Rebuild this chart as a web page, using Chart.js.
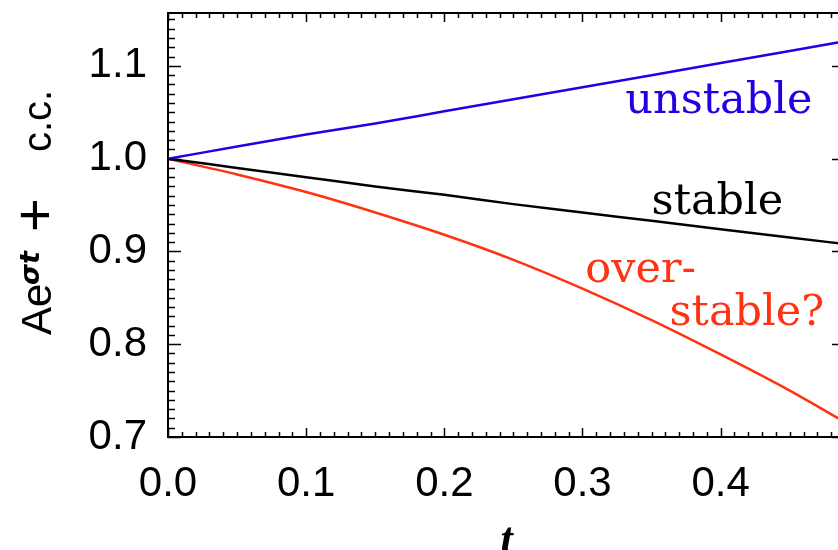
<!DOCTYPE html>
<html>
<head>
<meta charset="utf-8">
<script src="https://cdn.jsdelivr.net/npm/chart.js@4.4.0/dist/chart.umd.min.js"></script>
<style>
  html, body { margin: 0; padding: 0; background: #fff; overflow: hidden; width: 838px; height: 550px; }
  canvas { display: block; }
</style>
</head>
<body>
<canvas id="growthChart" width="846" height="550"></canvas>
<script>
// data
const tValues    = [0, 0.05, 0.1, 0.15, 0.2, 0.25, 0.3, 0.35, 0.4, 0.45, 0.49];
const unstable   = [1.0, 1.013, 1.026, 1.038, 1.051, 1.064, 1.077, 1.090, 1.103, 1.116, 1.1265];
const stable     = [1.0, 0.990, 0.980, 0.970, 0.961, 0.951, 0.942, 0.933, 0.924, 0.915, 0.908];
const overstable = [1.0, 0.983, 0.964, 0.942, 0.918, 0.891, 0.860, 0.826, 0.789, 0.750, 0.716];
const xTicks = [0, 0.1, 0.2, 0.3, 0.4];
const yTicks = [0.7, 0.8, 0.9, 1.0, 1.1];

const BLUE = '#2200e6';
const RED = '#ff3311';

// curve labels, placed in data coordinates
const notes = [
  { text: 'unstable', t: 0.331, v: 1.049, color: BLUE, w: 193 },
  { text: 'stable',   t: 0.350, v: 0.940, color: '#000' },
  { text: 'over-',    t: 0.302, v: 0.867, color: RED },
  { text: 'stable?',  t: 0.363, v: 0.821, color: RED }
];

function toPoints(ys) {
  return tValues.map((t, i) => ({ x: t, y: ys[i] }));
}

// box with IDL style inward ticks, curve labels and the y title
const frame = {
  id: 'frame',
  afterDatasetsDraw(chart) {
    const { ctx, chartArea: a, scales: { x, y } } = chart;
    ctx.save();
    ctx.strokeStyle = '#000';
    ctx.lineWidth = 2;
    ctx.strokeRect(a.left, a.top, a.right - a.left, a.bottom - a.top);

    ctx.lineWidth = 1.5;
    ctx.beginPath();
    for (let i = 0; i <= 49; i++) {
      const px = Math.round(x.getPixelForValue(i / 100)) + 0.5;
      const len = i % 10 === 0 ? 9 : 5;
      ctx.moveTo(px, a.bottom); ctx.lineTo(px, a.bottom - len);
      ctx.moveTo(px, a.top); ctx.lineTo(px, a.top + len);
    }
    for (let i = 70; i <= 115; i++) {
      const py = Math.round(y.getPixelForValue(i / 100)) + 0.5;
      const len = i % 10 === 0 ? 13 : 7;
      ctx.moveTo(a.left, py); ctx.lineTo(a.left + len, py);
      ctx.moveTo(a.right, py); ctx.lineTo(a.right - len, py);
    }
    ctx.stroke();

    ctx.font = '43px "DejaVu Serif"';
    ctx.textAlign = 'left';
    ctx.textBaseline = 'alphabetic';
    notes.forEach(n => {
      ctx.fillStyle = n.color;
      ctx.fillText(n.text, x.getPixelForValue(n.t), y.getPixelForValue(n.v), n.w);
    });

    // y title: A e^{sigma t} + c.c.
    ctx.fillStyle = '#000';
    ctx.translate(51, 0);
    ctx.rotate(-Math.PI / 2);
    ctx.font = '42px "Liberation Sans"';
    ctx.fillText('Ae', -335, 0);
    ctx.font = 'italic bold 27px "DejaVu Sans"';
    ctx.fillText('\u03c3t', -285, -12);
    ctx.font = '58px "Liberation Sans"';
    ctx.fillText('+', -232, 3);
    ctx.font = '40px "Liberation Sans"';
    ctx.fillText('c.c.', -152, 0);
    ctx.restore();
  }
};

const tickFont = { family: '"Liberation Sans"', size: 42 };

new Chart(document.getElementById('growthChart').getContext('2d'), {
  type: 'line',
  data: {
    datasets: [
      { label: 'unstable', data: toPoints(unstable), borderColor: BLUE, borderWidth: 2.5, pointRadius: 0, cubicInterpolationMode: 'monotone' },
      { label: 'stable', data: toPoints(stable), borderColor: '#000', borderWidth: 2.5, pointRadius: 0, cubicInterpolationMode: 'monotone' },
      { label: 'over-stable?', data: toPoints(overstable), borderColor: RED, borderWidth: 2.5, pointRadius: 0, cubicInterpolationMode: 'monotone' }
    ]
  },
  options: {
    responsive: false,
    animation: false,
    devicePixelRatio: 1,
    layout: { padding: { top: 13, right: 1, left: 0, bottom: 0 } },
    plugins: {
      legend: { display: false },
      tooltip: { enabled: false }
    },
    scales: {
      x: {
        type: 'linear',
        min: 0,
        max: 0.49,
        afterBuildTicks: s => { s.ticks = xTicks.map(v => ({ value: v })); },
        afterFit: s => { s.height = 113; s.paddingLeft = 0; s.paddingRight = 0; },
        ticks: {
          font: tickFont,
          color: '#000',
          padding: 22,
          maxRotation: 0,
          autoSkip: false,
          callback: v => v.toFixed(1)
        },
        grid: { display: false, drawTicks: false },
        border: { display: false },
        title: {
          display: true,
          text: 't',
          color: '#000',
          font: { family: '"Liberation Serif"', style: 'italic', weight: 'bold', size: 44, lineHeight: 1 },
          padding: { top: 0, bottom: -14 }
        }
      },
      y: {
        type: 'linear',
        min: 0.7,
        max: 1.157,
        afterBuildTicks: s => { s.ticks = yTicks.map(v => ({ value: v })); },
        afterFit: s => { s.width = 168; s.paddingTop = 0; s.paddingBottom = 0; },
        ticks: {
          font: tickFont,
          color: '#000',
          padding: 21,
          autoSkip: false,
          callback: v => v.toFixed(1)
        },
        grid: { display: false, drawTicks: false },
        border: { display: false }
      }
    }
  },
  plugins: [frame]
});
</script>
</body>
</html>
